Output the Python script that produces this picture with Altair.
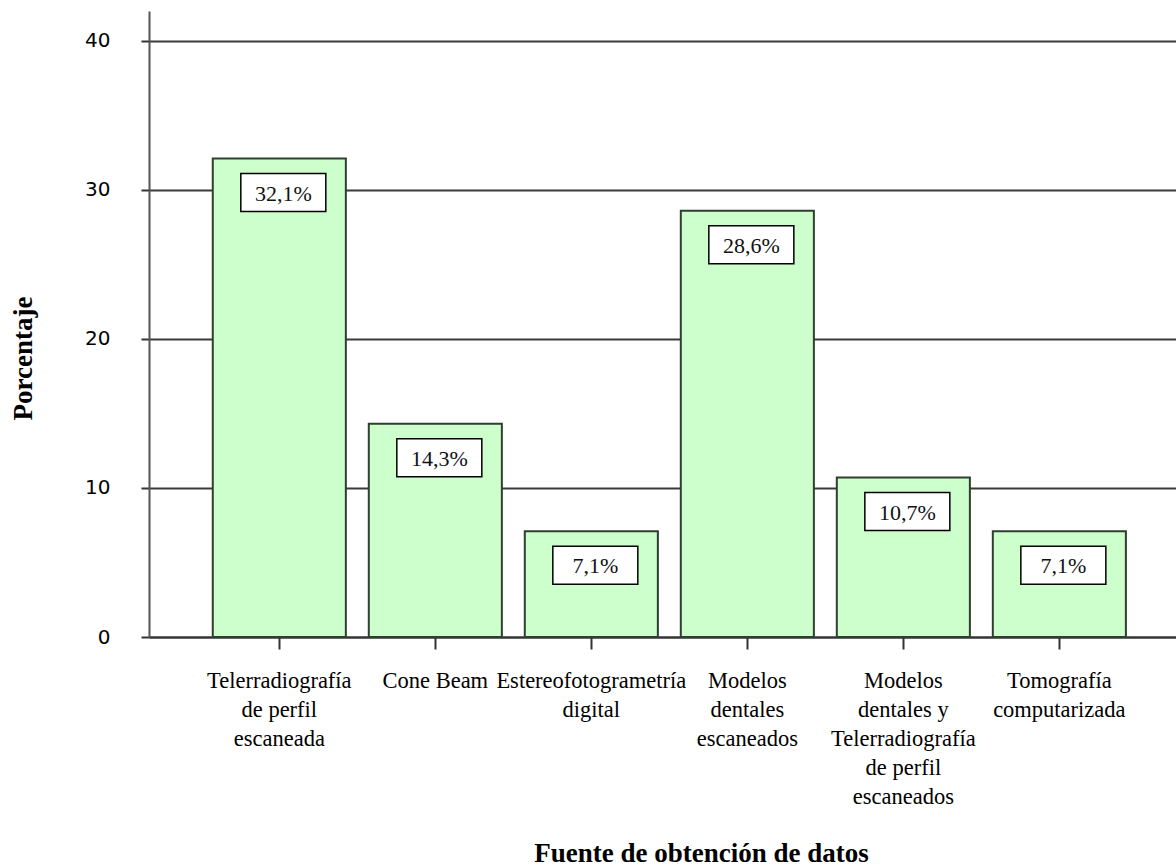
import altair as alt
import pandas as pd

# Data: share of studies by data-acquisition source
categories = [
    "Telerradiografía\nde perfil\nescaneada",
    "Cone Beam",
    "Estereofotogrametría\ndigital",
    "Modelos\ndentales\nescaneados",
    "Modelos\ndentales y\nTelerradiografía\nde perfil\nescaneados",
    "Tomografía\ncomputarizada",
]
percentages = [32.1, 14.3, 7.1, 28.6, 10.7, 7.1]
value_labels = ["32,1%", "14,3%", "7,1%", "28,6%", "10,7%", "7,1%"]

df = pd.DataFrame({"fuente": categories, "pct": percentages, "etiqueta": value_labels})

SERIF = "Liberation Serif"
SANS = "DejaVu Sans"

x_enc = alt.X(
    "fuente:N",
    sort=categories,
    scale=alt.Scale(paddingInner=0.147, paddingOuter=0.365, align=0.56),
    axis=alt.Axis(
        title="Fuente de obtención de datos",
        titleFont=SERIF,
        titleFontSize=27,
        titleFontWeight="bold",
        titleColor="#000000",
        titleX=552,
        titleY=216,
        titleAnchor="start",
        titleAlign="center",
        titleBaseline="middle",
        labelExpr="split(datum.label, '\\n')",
        labelAngle=0,
        labelFont=SERIF,
        labelFontSize=22.5,
        labelColor="#000000",
        labelLineHeight=29,
        labelPadding=20,
        labelLimit=0,
        labelBaseline="top",
        domain=True,
        domainColor="#333333",
        domainWidth=2,
        ticks=True,
        tickSize=12,
        tickWidth=2,
        tickColor="#333333",
        grid=False,
    ),
)

y_enc = alt.Y(
    "pct:Q",
    scale=alt.Scale(domain=[0, 42], nice=False),
    axis=alt.Axis(
        title="Porcentaje",
        titleFont=SERIF,
        titleFontSize=27,
        titleFontWeight="bold",
        titleColor="#000000",
        titleAngle=-90,
        titleX=-126,
        titleY=347,
        titleAlign="center",
        titleBaseline="middle",
        values=[0, 10, 20, 30, 40],
        labelFont=SANS,
        labelFontSize=20,
        labelColor="#000000",
        labelPadding=31,
        domain=True,
        domainColor="#555555",
        domainWidth=2,
        ticks=True,
        tickSize=8,
        tickWidth=2,
        tickColor="#333333",
        grid=True,
        gridColor="#3a3a3a",
        gridWidth=2,
    ),
)

bars = alt.Chart(df).mark_bar(
    color="#ccffcc", stroke="#2f3f2f", strokeWidth=2
).encode(x=x_enc, y=y_enc)

# white label boxes near the top of each bar
box_path = "M-1,-0.447L1,-0.447L1,0.447L-1,0.447Z"
boxes = alt.Chart(df).mark_point(
    shape=box_path,
    size=85 * 85,
    filled=True,
    fill="#ffffff",
    fillOpacity=1,
    stroke="#000000",
    strokeWidth=1.5,
    opacity=1,
    xOffset=4,
    yOffset=34,
).encode(x=alt.X("fuente:N", sort=categories), y="pct:Q")

texts = alt.Chart(df).mark_text(
    font=SERIF,
    fontSize=22,
    color="#111111",
    baseline="middle",
    align="center",
    xOffset=4,
    yOffset=35,
).encode(x=alt.X("fuente:N", sort=categories), y="pct:Q", text="etiqueta:N")

chart = (
    alt.layer(bars, boxes, texts)
    .properties(
        width=1027,
        height=626,
        autosize=alt.AutoSizeParams(type="none"),
        padding={"left": 149, "top": 11, "right": 0, "bottom": 231},
        background="#ffffff",
    )
    .configure_view(stroke=None)
)

chart.save("out.html", embed_options={"renderer": "svg", "actions": False})
